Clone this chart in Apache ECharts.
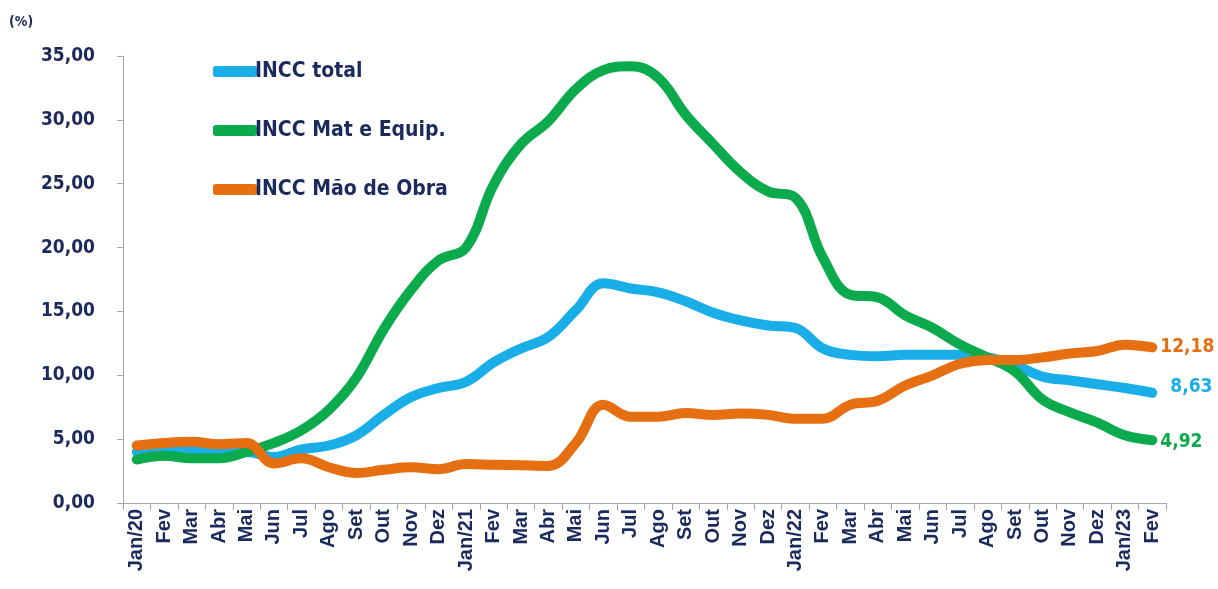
<!DOCTYPE html>
<html>
<head>
<meta charset="utf-8">
<title>INCC</title>
<script src="https://cdn.jsdelivr.net/npm/echarts@6/dist/echarts.min.js"></script>
<style>
  html, body { margin: 0; padding: 0; background: #fff; }
  #chart { width: 1218px; height: 589px; }
</style>
</head>
<body>
<div id="chart"></div>
<script>
const months = ["Jan/20", "Fev", "Mar", "Abr", "Mai", "Jun", "Jul", "Ago", "Set", "Out", "Nov", "Dez",
  "Jan/21", "Fev", "Mar", "Abr", "Mai", "Jun", "Jul", "Ago", "Set", "Out", "Nov", "Dez",
  "Jan/22", "Fev", "Mar", "Abr", "Mai", "Jun", "Jul", "Ago", "Set", "Out", "Nov", "Dez",
  "Jan/23", "Fev"];

const inccTotal = [4.0, 4.15, 4.1, 4.0, 4.0, 3.6, 4.2, 4.5, 5.3, 6.9, 8.3, 9.0,
  9.5, 11.0, 12.1, 13.0, 15.1, 17.2, 16.8, 16.5, 15.8, 14.9, 14.3, 13.9,
  13.7, 12.1, 11.6, 11.5, 11.6, 11.6, 11.6, 11.4, 10.8, 9.9, 9.6, 9.3,
  9.0, 8.63];

const inccMat = [3.4, 3.7, 3.5, 3.5, 4.0, 4.7, 5.7, 7.3, 9.8, 13.6, 16.7, 19.0,
  20.0, 24.9, 28.1, 29.9, 32.4, 33.9, 34.2, 33.3, 30.4, 28.1, 25.9, 24.4,
  23.9, 19.2, 16.3, 16.1, 14.7, 13.7, 12.4, 11.4, 10.3, 8.1, 7.1, 6.3,
  5.3, 4.92];

const inccMao = [4.5, 4.7, 4.8, 4.6, 4.7, 3.1, 3.5, 2.8, 2.35, 2.6, 2.8, 2.65,
  3.05, 3.0, 2.95, 2.9, 4.7, 7.7, 6.75, 6.75, 7.05, 6.9, 7.0, 6.9,
  6.6, 6.6, 7.7, 8.0, 9.2, 10.0, 10.9, 11.2, 11.2, 11.4, 11.7, 11.9,
  12.4, 12.18];

const yTicks = { min: 0, max: 35, step: 5 };

const navy = "#1b2a5c";
const narrow = "'Liberation Sans Narrow', 'DejaVu Sans Condensed', 'Arial Narrow', sans-serif";

function fmt(v) {
  return Number(v).toFixed(2).replace(".", ",");
}

function lineSeries(name, data, color, labelOffset) {
  return {
    name: name,
    type: "line",
    data: data,
    smooth: 0.4,
    symbol: "none",
    lineStyle: { width: 10, color: color, cap: "round", join: "round" },
    itemStyle: { color: color },
    endLabel: {
      show: true,
      formatter: p => fmt(p.value),
      color: color,
      fontFamily: narrow,
      fontWeight: "bold",
      fontSize: 19,
      distance: 8,
      offset: labelOffset
    }
  };
}

const options = {
  animation: false,
  grid: { left: 123, right: 52, top: 56, bottom: 86 },
  graphic: [{
    type: "text",
    left: 9,
    top: 15,
    style: { text: "(%)", fill: navy, font: "bold 14px " + narrow }
  }],
  legend: {
    orient: "vertical",
    left: 208,
    top: 56,
    itemGap: 38,
    itemWidth: 44,
    itemHeight: 11,
    icon: "roundRect",
    textStyle: { color: navy, fontFamily: narrow, fontWeight: "bold", fontSize: 21, padding: [0, 0, 0, -7] },
    data: ["INCC total", "INCC Mat e Equip.", "INCC Mão de Obra"]
  },
  xAxis: {
    type: "category",
    boundaryGap: true,
    data: months,
    axisLine: { lineStyle: { color: "#a6a6a6", width: 1 } },
    axisTick: { show: true, length: 7, lineStyle: { color: "#a6a6a6" } },
    axisLabel: {
      rotate: 90,
      interval: 0,
      margin: 6,
      color: navy,
      fontFamily: "'Liberation Sans', Arial, sans-serif",
      fontWeight: "bold",
      fontSize: 20
    }
  },
  yAxis: {
    type: "value",
    min: yTicks.min,
    max: yTicks.max,
    interval: yTicks.step,
    splitLine: { show: false },
    axisLine: { show: true, lineStyle: { color: "#a6a6a6", width: 1 } },
    axisTick: { show: true, length: 6, lineStyle: { color: "#a6a6a6" } },
    axisLabel: {
      formatter: fmt,
      margin: 28,
      color: navy,
      fontFamily: narrow,
      fontWeight: "bold",
      fontSize: 19
    }
  },
  series: [
    lineSeries("INCC total", inccTotal, "#1aaee8", [10, -6]),
    lineSeries("INCC Mat e Equip.", inccMat, "#0aaa4d", [0, 2]),
    lineSeries("INCC Mão de Obra", inccMao, "#e66f12", [0, 0])
  ]
};

const chart = echarts.init(document.getElementById("chart"));
chart.setOption(options);
</script>
</body>
</html>
